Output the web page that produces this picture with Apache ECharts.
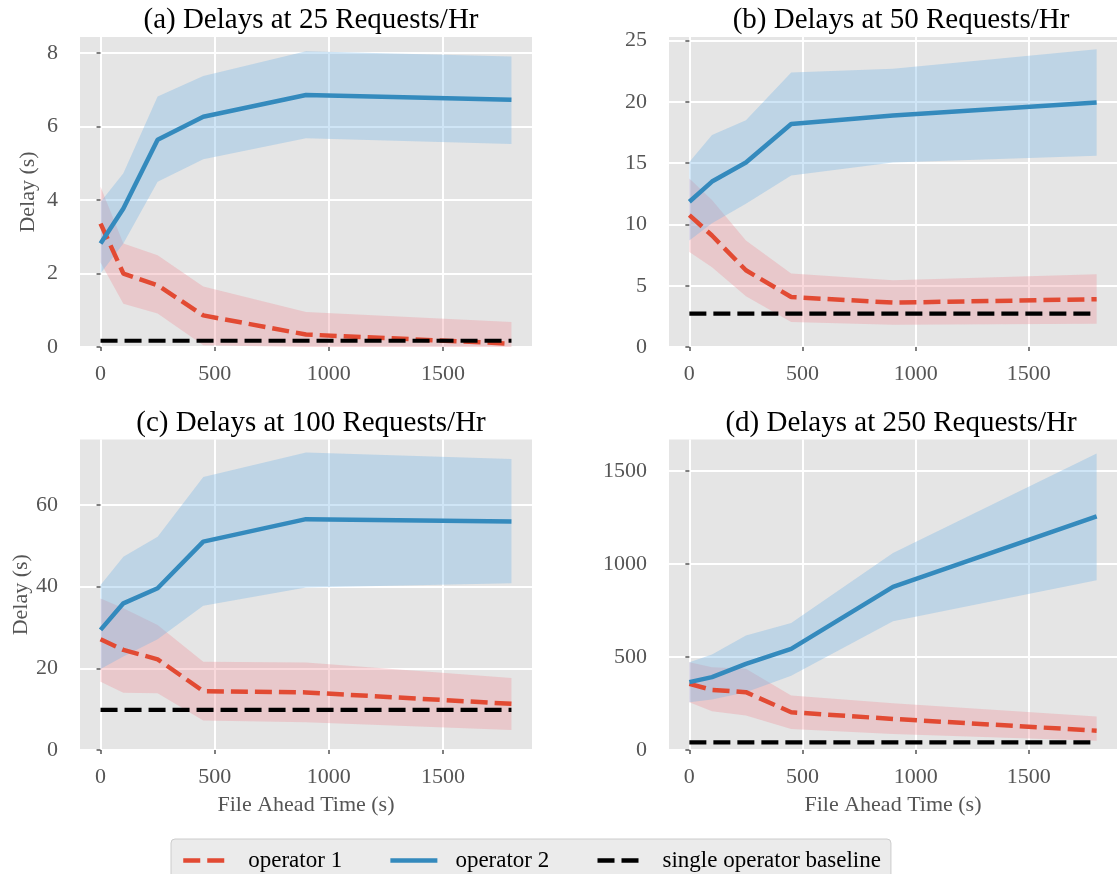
<!DOCTYPE html>
<html>
<head>
<meta charset="utf-8">
<script src="https://cdn.jsdelivr.net/npm/echarts@6/dist/echarts.min.js"></script>
<style>
	html, body { margin: 0; padding: 0; background: #fff; }
	#chart { width: 1117px; height: 874px; }
</style>
</head>
<body>
<div id="chart"></div>
<script>
// file ahead time (s), shared by all four panels
var fileAhead = [0, 100, 250, 450, 900, 1800];
var xTicks = [0, 500, 1000, 1500];

var panelTitles = [
	"(a) Delays at 25 Requests/Hr",
	"(b) Delays at 50 Requests/Hr",
	"(c) Delays at 100 Requests/Hr",
	"(d) Delays at 250 Requests/Hr"
];
var yMax = [8.44, 25.3, 76, 1670];
var yTicks = [
	[0, 2, 4, 6, 8],
	[0, 5, 10, 15, 20, 25],
	[0, 20, 40, 60],
	[0, 500, 1000, 1500]
];

// (a) 25 req/hr
var op1MeanA = [3.36, 2.0, 1.68, 0.86, 0.34, 0.09];
var op1LowA = [2.3, 1.18, 0.91, 0.05, 0, 0];
var op1HighA = [4.36, 2.82, 2.5, 1.65, 0.95, 0.68];
var op2MeanA = [2.82, 3.77, 5.64, 6.27, 6.86, 6.73];
var op2LowA = [2.0, 2.82, 4.5, 5.11, 5.68, 5.53];
var op2HighA = [3.95, 4.73, 6.82, 7.38, 8.05, 7.91];

// (b) 50 req/hr
var op1MeanB = [10.76, 9.1, 6.26, 4.08, 3.62, 3.9];
var op1LowB = [7.76, 6.5, 4.14, 2.04, 1.82, 1.9];
var op1HighB = [13.75, 12.0, 8.7, 6.0, 5.45, 5.94];
var op2MeanB = [11.85, 13.5, 15.06, 18.2, 18.9, 19.96];
var op2LowB = [8.7, 10.1, 11.7, 14.0, 15.06, 15.6];
var op2HighB = [15.1, 17.3, 18.5, 22.4, 22.7, 24.3];

// (c) 100 req/hr
var op1MeanC = [27.1, 24.5, 22.2, 14.4, 14.1, 11.3];
var op1LowC = [16.7, 14.0, 13.9, 7.2, 6.8, 4.9];
var op1HighC = [37.1, 34.7, 30.6, 21.6, 21.4, 17.6];
var op2MeanC = [29.4, 35.9, 39.6, 51.0, 56.5, 55.9];
var op2LowC = [19.8, 22.9, 27.1, 35.3, 39.8, 40.8];
var op2HighC = [40.4, 47.3, 52.2, 66.8, 72.8, 71.2];

// (d) 250 req/hr
var op1MeanD = [356, 323, 311, 203, 167, 104];
var op1LowD = [257, 208, 185, 113, 86, 50];
var op1HighD = [472, 445, 437, 293, 251, 180];
var op2MeanD = [365, 392, 463, 544, 877, 1257];
var op2LowD = [257, 271, 311, 400, 693, 913];
var op2HighD = [472, 514, 616, 683, 1060, 1595];

// single operator baseline per panel
var baselines = [0.17, 2.72, 9.8, 41];

var panels = [
	{ op1: op1MeanA, op1Low: op1LowA, op1High: op1HighA, op2: op2MeanA, op2Low: op2LowA, op2High: op2HighA },
	{ op1: op1MeanB, op1Low: op1LowB, op1High: op1HighB, op2: op2MeanB, op2Low: op2LowB, op2High: op2HighB },
	{ op1: op1MeanC, op1Low: op1LowC, op1High: op1HighC, op2: op2MeanC, op2Low: op2LowC, op2High: op2HighC },
	{ op1: op1MeanD, op1Low: op1LowD, op1High: op1HighD, op2: op2MeanD, op2Low: op2LowD, op2High: op2HighD }
];

var font = "'Liberation Serif', 'Times New Roman', serif";
var red = "#E24A33";
var blue = "#348ABD";
var redBand = "rgba(238,146,155,0.35)";
var blueBand = "rgba(118,180,229,0.35)";

var gridBoxes = [
	{ left: 80, top: 37, width: 452, height: 310 },
	{ left: 669, top: 37, width: 454, height: 310 },
	{ left: 80, top: 439.5, width: 452, height: 310.5 },
	{ left: 669, top: 439.5, width: 454, height: 310.5 }
];

function pairs(ys) {
	return fileAhead.map(function (x, i) {
		return [x, ys[i]];
	});
}

function plainNumber(v) {
	return String(v);
}

// filled band between low and high, drawn once as a polygon
function bandSeries(i, lo, hi, color) {
	return {
		type: "custom", xAxisIndex: i, yAxisIndex: i, silent: true, z: 1,
		data: fileAhead.map(function (x, k) { return [x, lo[k], hi[k]]; }),
		encode: { x: 0, y: [1, 2] },
		renderItem: function (params, api) {
			if (params.dataIndex !== 0) return;
			var pts = [];
			for (var k = 0; k < fileAhead.length; k++) pts.push(api.coord([fileAhead[k], hi[k]]));
			for (var k2 = fileAhead.length - 1; k2 >= 0; k2--) pts.push(api.coord([fileAhead[k2], lo[k2]]));
			return { type: "polygon", shape: { points: pts }, style: { fill: color } };
		}
	};
}

var grids = [], xAxes = [], yAxes = [], titles = [], series = [];

gridBoxes.forEach(function (box, i) {
	grids.push({
		left: box.left, top: box.top, width: box.width, height: box.height,
		show: true, backgroundColor: "#E5E5E5", borderWidth: 0
	});

	titles.push({
		text: panelTitles[i],
		left: box.left + box.width / 2,
		textAlign: "center",
		top: box.top - 36,
		textStyle: { fontFamily: font, fontSize: 29, fontWeight: "normal", color: "#000" }
	});

	xAxes.push({
		gridIndex: i, type: "value", min: -90, max: 1890,
		name: i >= 2 ? "File Ahead Time (s)" : "",
		nameLocation: "middle", nameGap: 44,
		nameTextStyle: { fontFamily: font, fontSize: 22, color: "#555" },
		axisLine: { show: false },
		axisTick: { show: true, length: 4, customValues: xTicks, lineStyle: { color: "#555", width: 1.5 } },
		axisLabel: { customValues: xTicks, formatter: plainNumber, fontFamily: font, fontSize: 22, color: "#555", margin: 16 },
		splitLine: { show: true, lineStyle: { color: "#fff", width: 2 } }
	});

	yAxes.push({
		gridIndex: i, type: "value", min: 0, max: yMax[i],
		name: i % 2 === 0 ? "Delay (s)" : "",
		nameLocation: "middle", nameGap: 41,
		nameTextStyle: { fontFamily: font, fontSize: 22, color: "#555" },
		axisLine: { show: false },
		axisTick: { show: true, length: 4, customValues: yTicks[i], lineStyle: { color: "#555", width: 1.5 } },
		axisLabel: { customValues: yTicks[i], formatter: plainNumber, fontFamily: font, fontSize: 22, color: "#555", margin: 22 },
		splitLine: { show: true, lineStyle: { color: "#fff", width: 2 } }
	});

	var p = panels[i];
	series.push(bandSeries(i, p.op1Low, p.op1High, redBand));
	series.push(bandSeries(i, p.op2Low, p.op2High, blueBand));

	series.push({
		name: "operator 1", type: "line", xAxisIndex: i, yAxisIndex: i, symbol: "none", z: 3,
		data: pairs(p.op1), color: red,
		lineStyle: { color: red, width: 4.5, type: [17, 7], cap: "butt" }
	});
	series.push({
		name: "operator 2", type: "line", xAxisIndex: i, yAxisIndex: i, symbol: "none", z: 3,
		data: pairs(p.op2), color: blue,
		lineStyle: { color: blue, width: 4.5 }
	});
	series.push({
		name: "single operator baseline", type: "line", xAxisIndex: i, yAxisIndex: i, symbol: "none", z: 4,
		data: pairs(fileAhead.map(function () { return baselines[i]; })), color: "#000",
		lineStyle: { color: "#000", width: 4.2, type: [17, 7], cap: "butt" }
	});
});

var chart = echarts.init(document.getElementById("chart"), null, { renderer: "canvas" });
chart.setOption({
	animation: false,
	backgroundColor: "#fff",
	textStyle: { fontFamily: font },
	title: titles,
	grid: grids,
	xAxis: xAxes,
	yAxis: yAxes,
	legend: {
		data: ["operator 1", "operator 2", "single operator baseline"],
		left: 171, top: 839,
		orient: "horizontal",
		itemWidth: 47, itemHeight: 14, itemGap: 46,
		padding: [10, 10, 20, 10],
		backgroundColor: "#EBEBEB", borderColor: "#CCCCCC", borderWidth: 1, borderRadius: 4,
		lineStyle: { width: 4.5 },
		itemStyle: { opacity: 0, color: "transparent", borderColor: "transparent", borderWidth: 0 },
		textStyle: { fontFamily: font, fontSize: 23, color: "#000", padding: [0, 0, 0, 13] },
		selectedMode: false
	},
	series: series
});
</script>
</body>
</html>
